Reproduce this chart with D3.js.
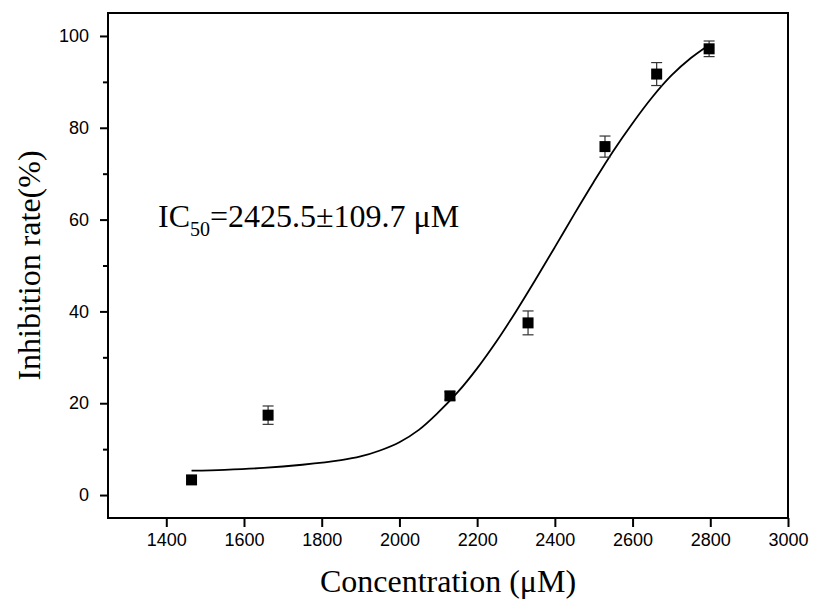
<!DOCTYPE html>
<html>
<head>
<meta charset="utf-8">
<script src="https://cdn.jsdelivr.net/npm/d3@7"></script>
<style>
  body { margin: 0; background: #fff; }
  .tick text { font-family: "Liberation Sans", Arial, sans-serif; font-size: 18px; fill: #000; }
  .axis path, .axis line { stroke: #000; stroke-width: 2px; }
  .title { font-family: "Liberation Serif", "Times New Roman", serif; font-size: 32px; fill: #000; }
</style>
</head>
<body>
<div id="chart"></div>
<script>
// measured points (concentration, inhibition %, error)
var concentration = [1465, 1662, 2130, 2331, 2529, 2662, 2797];
var inhibition    = [3.3, 17.4, 21.6, 37.5, 75.9, 91.7, 97.2];
var errors        = [0.0, 2.0, 0.9, 2.6, 2.3, 2.5, 1.7];

// fitted curve
var fitX = [1465, 1550, 1650, 1750, 1850, 1900, 1950, 2000, 2050, 2100, 2150, 2200, 2250,
            2300, 2350, 2400, 2450, 2500, 2550, 2600, 2650, 2700, 2750, 2796];
var fitY = [5.3, 5.5, 5.9, 6.6, 7.6, 8.4, 9.7, 11.5, 14.2, 18.0, 22.4, 27.6, 33.5,
            40.0, 46.9, 54.0, 61.2, 68.2, 74.9, 81.0, 86.6, 91.4, 95.2, 98.0];

var xTicks = [1400, 1600, 1800, 2000, 2200, 2400, 2600, 2800, 3000];
var yTicks = [0, 20, 40, 60, 80, 100];
var yMinorTicks = [10, 30, 50, 70, 90];

var width = 813, height = 606;
var margin = {left: 108, top: 13, right: 25, bottom: 88};

var svg = d3.select("#chart").append("svg")
    .attr("width", width)
    .attr("height", height);

var x = d3.scaleLinear()
    .domain([1250, 3000])
    .range([margin.left, width - margin.right]);

var y = d3.scaleLinear()
    .domain([-5, 105])
    .range([height - margin.bottom, margin.top]);

// frame
svg.append("rect")
    .attr("x", x.range()[0])
    .attr("y", y.range()[1])
    .attr("width", x.range()[1] - x.range()[0])
    .attr("height", y.range()[0] - y.range()[1])
    .attr("fill", "none")
    .attr("stroke", "#000")
    .attr("stroke-width", 2);

// axes
svg.append("g")
    .classed("axis", true)
    .attr("transform", "translate(0," + y.range()[0] + ")")
    .call(d3.axisBottom(x).tickValues(xTicks).tickSize(9).tickSizeOuter(0).tickPadding(6).tickFormat(d3.format("d")));

svg.append("g")
    .classed("axis", true)
    .attr("transform", "translate(" + x.range()[0] + ",0)")
    .call(d3.axisLeft(y).tickValues(yTicks).tickSize(8).tickSizeOuter(0).tickPadding(11));

svg.append("g")
    .classed("axis", true)
    .attr("transform", "translate(" + x.range()[0] + ",0)")
    .call(d3.axisLeft(y).tickValues(yMinorTicks).tickSize(5).tickSizeOuter(0).tickFormat(""));

svg.selectAll(".axis .domain").remove();

// fitted curve
var line = d3.line()
    .x(function(d) { return x(d[0]); })
    .y(function(d) { return y(d[1]); })
    .curve(d3.curveCatmullRom);

svg.append("path")
    .datum(d3.zip(fitX, fitY))
    .attr("d", line)
    .attr("fill", "none")
    .attr("stroke", "#000")
    .attr("stroke-width", 1.8);

// error bars
var points = concentration.map(function(c, i) {
    return {x: c, y: inhibition[i], e: errors[i]};
});
var bars = svg.append("g")
    .attr("stroke", "#333")
    .attr("stroke-width", 1.2);

points.filter(function(d) { return d.e > 0; }).forEach(function(d) {
    var cx = x(d.x);
    bars.append("line")
        .attr("x1", cx).attr("x2", cx)
        .attr("y1", y(d.y - d.e)).attr("y2", y(d.y + d.e));
    [d.y - d.e, d.y + d.e].forEach(function(v) {
        bars.append("line")
            .attr("x1", cx - 5.5).attr("x2", cx + 5.5)
            .attr("y1", y(v)).attr("y2", y(v));
    });
});

// markers
var size = 11;
svg.append("g")
    .selectAll("rect")
    .data(points)
    .enter()
    .append("rect")
    .attr("x", function(d) { return x(d.x) - size / 2; })
    .attr("y", function(d) { return y(d.y) - size / 2; })
    .attr("width", size)
    .attr("height", size)
    .attr("fill", "#000");

// annotation
var note = svg.append("text")
    .classed("title", true)
    .attr("x", 158)
    .attr("y", 227);
note.append("tspan").text("IC");
note.append("tspan").attr("dy", 9).style("font-size", "20px").text("50");
note.append("tspan").attr("dy", -9).text("=2425.5±109.7 μM");

// axis titles
svg.append("text")
    .classed("title", true)
    .attr("text-anchor", "middle")
    .attr("x", (x.range()[0] + x.range()[1]) / 2)
    .attr("y", 592)
    .text("Concentration (μM)");

svg.append("text")
    .classed("title", true)
    .attr("text-anchor", "middle")
    .attr("transform", "translate(40," + ((y.range()[0] + y.range()[1]) / 2) + ") rotate(-90)")
    .text("Inhibition rate(%)");
</script>
</body>
</html>
